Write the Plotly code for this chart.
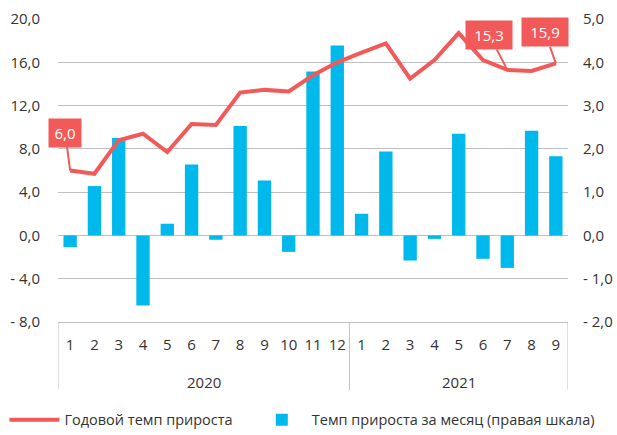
import plotly.graph_objects as go

years = ["2020"] * 12 + ["2021"] * 9
months = [str(m) for m in range(1, 13)] + [str(m) for m in range(1, 10)]
annual_growth = [6.0, 5.7, 8.8, 9.4, 7.7, 10.3, 10.2, 13.2, 13.45, 13.3, 14.8, 16.0,
                 16.9, 17.75, 14.5, 16.2, 18.7, 16.2, 15.3, 15.2, 15.9]
monthly_growth = [-0.27, 1.14, 2.25, -1.62, 0.27, 1.64, -0.1, 2.53, 1.27, -0.38, 3.79, 4.39,
                  0.5, 1.94, -0.58, -0.08, 2.35, -0.54, -0.75, 2.42, 1.83]
left_ticks = [-8, -4, 0, 4, 8, 12, 16, 20]
left_labels = ["- 8,0", "- 4,0", "0,0", "4,0", "8,0", "12,0", "16,0", "20,0"]
right_ticks = [-2, -1, 0, 1, 2, 3, 4, 5]
right_labels = ["- 2,0", "- 1,0", "0,0", "1,0", "2,0", "3,0", "4,0", "5,0"]
labeled_idx = [0, 18, 20]
label_offsets = [(-5, -38), (-18, -35), (-11, -31)]
label_box_widths = [22, 36, 36]

RED = "#F25A5A"
BLUE = "#00B9EC"
GRID = "#BFBFBF"
FONT = "Open Sans"

idx = list(range(len(months)))

fig = go.Figure()
fig.add_trace(go.Bar(x=idx, y=monthly_growth, yaxis="y",
                     name="Темп прироста за месяц (правая шкала)",
                     marker=dict(color=BLUE, line=dict(width=0)), width=0.55,
                     legend="legend2"))
fig.add_trace(go.Scatter(x=idx, y=annual_growth, yaxis="y2", mode="lines",
                         name="Годовой темп прироста",
                         line=dict(color=RED, width=4), legend="legend"))

for i, (ax, ay), w in zip(labeled_idx, label_offsets, label_box_widths):
    fig.add_annotation(x=i, y=annual_growth[i], xref="x", yref="y2",
                       text=f"{annual_growth[i]:.1f}".replace(".", ","),
                       showarrow=True, arrowhead=0, arrowwidth=2, arrowcolor=RED,
                       ax=ax, ay=ay, standoff=0, bgcolor=RED, borderpad=5,
                       width=w, height=18,
                       font=dict(color="white", size=15, family=FONT))

# year group labels and dividers
groups = []
for i, y in enumerate(years):
    if not groups or groups[-1][0] != y:
        groups.append([y, i, i])
    else:
        groups[-1][2] = i
div_bottom = -0.224
for y, a, b in groups:
    fig.add_annotation(x=(a + b) / 2, y=-0.198, xref="x", yref="paper", text=y,
                       showarrow=False, yanchor="middle",
                       font=dict(size=15, family=FONT, color="#333333"))
edges = [groups[0][1] - 0.5] + [g[2] + 0.5 for g in groups]
for e in edges:
    fig.add_shape(type="line", x0=e, x1=e, y0=0, y1=div_bottom, xref="x", yref="paper",
                  line=dict(color=GRID, width=1))

legend_common = dict(orientation="h", xanchor="left", yanchor="middle", y=-0.323,
                     font=dict(size=14.5, color="#333333"), itemwidth=50,
                     bgcolor="rgba(0,0,0,0)")

fig.update_layout(
    width=617, height=435,
    margin=dict(l=58, r=49, t=19, b=113, autoexpand=False),
    paper_bgcolor="white", plot_bgcolor="white",
    font=dict(family=FONT, size=15, color="#333333"),
    showlegend=True,
    legend=dict(x=-0.105, **legend_common),
    legend2=dict(x=0.38, **legend_common),
    xaxis=dict(range=[-0.5, len(months) - 0.5], tickvals=idx, ticktext=months,
               showline=True, linecolor=GRID, linewidth=1, ticks="",
               tickfont=dict(size=15), tickangle=0, showgrid=False, zeroline=False,
               ticklabelstandoff=9, automargin=False),
    yaxis=dict(side="right", range=[-2, 5], tickvals=right_ticks, ticktext=right_labels,
               showgrid=True, gridcolor=GRID, gridwidth=1, zeroline=False,
               ticklabelstandoff=14, showline=False, automargin=False),
    yaxis2=dict(side="left", overlaying="y", range=[-8, 20], tickvals=left_ticks,
                ticktext=left_labels, showgrid=False, zeroline=False,
                ticklabelstandoff=17, showline=False, automargin=False),
)

fig.write_html("out.html", config={"displayModeBar": False},
               post_script="document.body.style.margin='0px';")
